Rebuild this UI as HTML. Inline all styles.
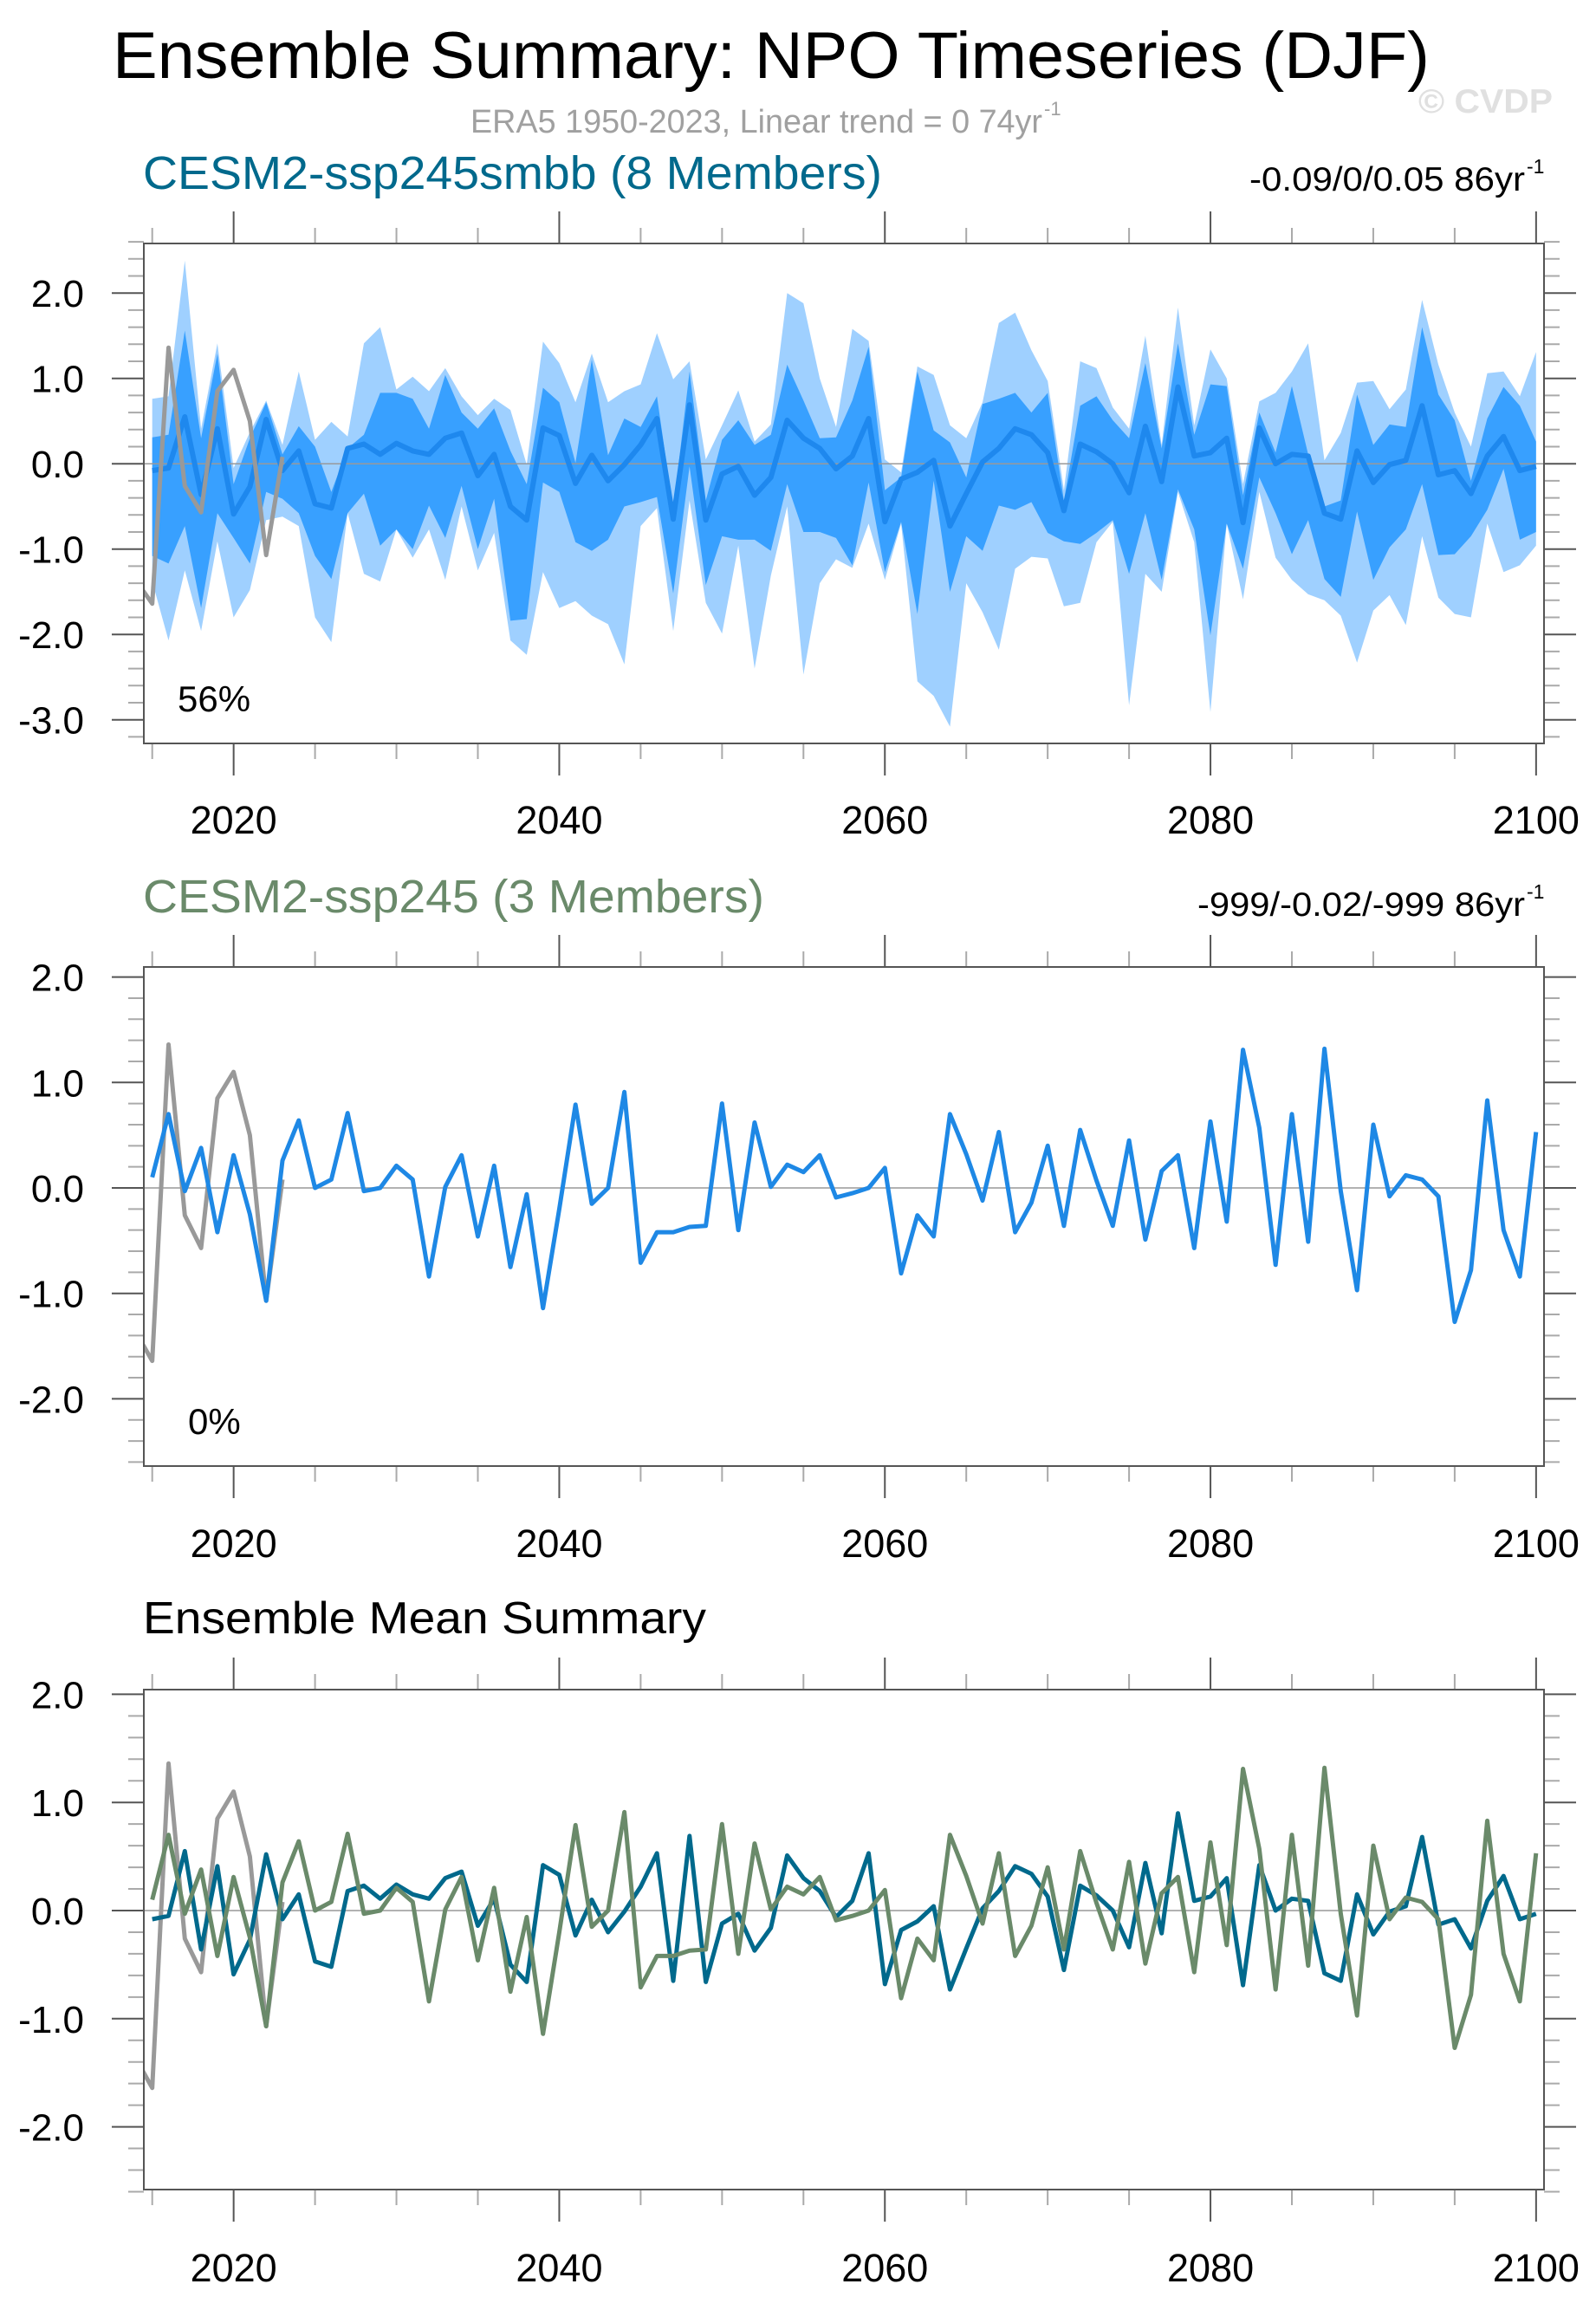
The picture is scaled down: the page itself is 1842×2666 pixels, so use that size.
<!DOCTYPE html>
<html><head><meta charset="utf-8"><title>Ensemble Summary: NPO Timeseries (DJF)</title>
<style>
html,body{margin:0;padding:0;background:#fff;}
svg{display:block;font-family:"Liberation Sans",Arial,sans-serif;}
</style></head>
<body>
<svg id="chart" xmlns="http://www.w3.org/2000/svg" width="1842" height="2666" viewBox="0 0 1842 2666">
<rect x="0" y="0" width="1842" height="2666" fill="#fff"/>
<text x="130" y="90" font-size="76" fill="#000" textLength="1520" lengthAdjust="spacingAndGlyphs">Ensemble Summary: NPO Timeseries (DJF)</text>
<text x="543" y="153" font-size="38" fill="#a0a0a0" textLength="660" lengthAdjust="spacingAndGlyphs">ERA5 1950-2023, Linear trend = 0 74yr</text>
<text x="1205" y="133" font-size="22" fill="#a0a0a0">-1</text>
<text x="1637" y="130" font-size="39" font-weight="bold" fill="#e0e0e0" textLength="155" lengthAdjust="spacingAndGlyphs">© CVDP</text>

<text x="165" y="218" font-size="54" fill="#00698c" textLength="853" lengthAdjust="spacingAndGlyphs">CESM2-ssp245smbb (8 Members)</text>
<text x="1442" y="220" font-size="39" fill="#000" textLength="318" lengthAdjust="spacingAndGlyphs">-0.09/0/0.05 86yr</text>
<text x="1762" y="200" font-size="23" fill="#000">-1</text>

<text x="165" y="1053" font-size="54" fill="#6a8a6a" textLength="717" lengthAdjust="spacingAndGlyphs">CESM2-ssp245 (3 Members)</text>
<text x="1382" y="1057" font-size="39" fill="#000" textLength="378" lengthAdjust="spacingAndGlyphs">-999/-0.02/-999 86yr</text>
<text x="1762" y="1037" font-size="23" fill="#000">-1</text>

<text x="165" y="1885" font-size="52" fill="#000" textLength="650" lengthAdjust="spacingAndGlyphs">Ensemble Mean Summary</text>
<g id="plots"></g>
</svg>
<script>
const years = [];
for (let y = 2015; y <= 2100; y++) years.push(y);
const era5Years = [2014,2015,2016,2017,2018,2019,2020,2021,2022,2023];
const era5Values = [-1.37,-1.64,1.36,-0.26,-0.57,0.85,1.10,0.50,-1.07,0.08];
const smbbMean = [-0.08,-0.05,0.55,-0.36,0.41,-0.59,-0.27,0.52,-0.08,0.15,-0.47,-0.52,0.18,0.23,0.11,0.24,0.15,0.11,0.30,0.36,-0.14,0.11,
-0.50,-0.66,0.42,0.33,-0.23,0.10,-0.20,-0.01,0.22,0.53,-0.65,0.69,-0.66,-0.12,-0.03,-0.37,-0.16,0.51,0.30,0.18,-0.06,
0.09,0.53,-0.68,-0.18,-0.10,0.04,-0.73,-0.35,0.02,0.18,0.41,0.34,0.13,-0.55,0.23,0.14,0.0,-0.34,0.44,-0.21,0.90,0.09,
0.13,0.30,-0.69,0.42,0.0,0.11,0.09,-0.58,-0.65,0.15,-0.22,-0.01,0.04,0.68,-0.13,-0.08,-0.35,0.09,0.32,-0.08,-0.03];
const smbbInnerTop = [0.31,0.34,1.56,0.30,1.29,-0.24,0.30,0.72,0.11,0.44,0.20,-0.33,0.18,0.34,0.83,0.83,0.76,0.41,1.04,0.60,0.41,0.65,
0.15,-0.24,0.89,0.72,0.01,1.22,0.10,0.53,0.43,0.79,-0.54,1.08,-0.43,0.28,0.51,0.22,0.34,1.16,0.74,0.30,0.31,
0.74,1.37,-0.31,-0.16,1.08,0.39,0.25,-0.16,0.70,0.76,0.83,0.60,0.83,-0.43,0.68,0.79,0.51,0.30,1.18,0.18,1.41,0.34,
0.93,0.91,-0.37,0.60,0.13,0.91,0.11,-0.50,-0.43,0.81,0.22,0.46,0.43,1.60,0.81,0.51,-0.20,0.53,0.90,0.68,0.26];
const smbbInnerBottom = [-1.08,-1.17,-0.73,-1.69,-0.58,-0.87,-1.17,-0.33,-0.41,-0.58,-1.08,-1.35,-0.58,-0.35,-0.96,-0.77,-1.0,-0.49,-0.87,-0.26,-1.0,-0.41,
-1.84,-1.82,-0.22,-0.33,-0.92,-1.02,-0.89,-0.50,-0.45,-0.39,-1.52,-0.03,-1.42,-0.85,-0.89,-0.89,-1.02,-0.24,-0.80,-0.80,-0.87,
-1.19,-0.22,-1.27,-0.68,-1.76,-0.20,-1.50,-0.85,-1.02,-0.49,-0.54,-0.45,-0.81,-0.91,-0.94,-0.81,-0.66,-1.29,-0.58,-1.36,-0.30,-0.77,
-2.01,-0.70,-1.23,-0.16,-0.58,-1.06,-0.66,-1.35,-1.56,-0.56,-1.36,-0.98,-0.77,-0.24,-1.07,-1.06,-0.85,-0.54,-0.06,-0.89,-0.80];
const smbbOuterTop = [0.76,0.79,2.38,0.41,1.41,-0.05,0.37,0.74,0.22,1.08,0.28,0.49,0.32,1.41,1.60,0.87,1.02,0.85,1.12,0.79,0.57,0.76,
0.63,-0.01,1.43,1.18,0.72,1.29,0.72,0.85,0.93,1.53,0.99,1.20,0.05,0.45,0.86,0.26,0.46,2.0,1.88,1.00,0.43,
1.58,1.44,0.05,-0.10,1.14,1.04,0.45,0.30,0.72,1.65,1.77,1.33,0.97,-0.31,1.20,1.12,0.66,0.41,1.50,0.22,1.83,0.45,
1.34,1.00,-0.24,0.73,0.83,1.08,1.41,0.04,0.36,0.95,0.97,0.64,0.87,1.92,1.16,0.60,0.20,1.06,1.08,0.79,1.31];
const smbbOuterBottom = [-1.38,-2.07,-1.25,-1.96,-0.91,-1.80,-1.48,-0.66,-0.62,-0.73,-1.80,-2.09,-0.58,-1.29,-1.38,-0.77,-1.1,-0.77,-1.36,-0.5,-1.25,-0.81,
-2.07,-2.24,-1.27,-1.69,-1.61,-1.78,-1.88,-2.35,-0.73,-0.52,-1.96,-0.43,-1.63,-1.99,-0.96,-2.40,-1.31,-0.50,-2.47,-1.40,-1.12,
-1.22,-0.70,-1.36,-0.70,-2.55,-2.72,-3.08,-1.40,-1.74,-2.18,-1.23,-1.09,-1.11,-1.67,-1.63,-0.92,-0.68,-2.83,-1.29,-1.50,-0.33,-0.92,
-2.91,-0.70,-1.59,-0.33,-1.10,-1.36,-1.53,-1.60,-1.78,-2.33,-1.72,-1.54,-1.89,-0.85,-1.57,-1.76,-1.80,-0.70,-1.27,-1.19,-0.96];
const ssp245Mean = [0.10,0.70,-0.03,0.38,-0.42,0.31,-0.25,-1.07,0.26,0.64,0.0,0.08,0.71,-0.03,0.0,0.21,0.08,-0.84,0.01,0.31,-0.46,0.21,
-0.75,-0.06,-1.14,-0.2,0.79,-0.15,0.0,0.91,-0.71,-0.42,-0.42,-0.37,-0.36,0.80,-0.40,0.62,0.01,0.22,0.15,0.31,-0.09,
-0.05,0.0,0.19,-0.81,-0.26,-0.46,0.70,0.32,-0.12,0.53,-0.42,-0.14,0.40,-0.36,0.55,0.07,-0.36,0.45,-0.49,0.16,0.31,-0.57,
0.63,-0.32,1.31,0.57,-0.73,0.70,-0.51,1.32,-0.03,-0.97,0.60,-0.08,0.12,0.08,-0.08,-1.27,-0.78,0.83,-0.40,-0.84,0.53];
const yTickLabels1 = ["2.0","1.0","0.0","-1.0","-2.0","-3.0"];
const yTickLabels23 = ["2.0","1.0","0.0","-1.0","-2.0"];
const xTickLabels = ["2020","2040","2060","2080","2100"];
const pctPanel1 = "56%";
const pctPanel2 = "0%";

const NS = "http://www.w3.org/2000/svg";
const root = document.getElementById('plots');
function mk(tag, attrs, parent) {
  const e = document.createElementNS(NS, tag);
  for (const k in attrs) e.setAttribute(k, attrs[k]);
  (parent || root).appendChild(e);
  return e;
}
const X0 = 166, X1 = 1782;
function xScale(yr) { return 175.7 + (yr - 2015) * 18.79; }

function makePanel(id, top, bottom, zeroY, unit, vmin, vmax, yLabels, labelBaseline) {
  const yScale = v => zeroY - v * unit;
  const g = mk('g', {});
  
  
  const clipId = id + '-clip';
  const cp = mk('clipPath', {id: clipId}, g);
  mk('rect', {x: X0, y: top, width: X1 - X0, height: bottom - top}, cp);
  const plot = mk('g', {'clip-path': 'url(#' + clipId + ')'}, g);
  
  
  const ticks = mk('g', {stroke: '#666', 'stroke-width': 2}, g);
  
  
  for (let yr = 2015; yr <= 2100; yr += 5) {
    const major = (yr % 20 === 0);
    const L = major ? 37 : 18;
    const x = xScale(yr);
    mk('line', {x1: x, x2: x, y1: top, y2: top - L, stroke: major ? '#555' : '#aaa'}, ticks);
    mk('line', {x1: x, x2: x, y1: bottom, y2: bottom + L, stroke: major ? '#555' : '#aaa'}, ticks);
  }
  for (let k = Math.ceil(vmin * 5); k <= Math.floor(vmax * 5); k++) {
    const v = k / 5;
    const major = (k % 5 === 0);
    const L = major ? 37 : 18;
    const y = yScale(v);
    mk('line', {x1: X0, x2: X0 - L, y1: y, y2: y, stroke: major ? '#555' : '#aaa'}, ticks);
    mk('line', {x1: X1, x2: X1 + L, y1: y, y2: y, stroke: major ? '#555' : '#aaa'}, ticks);
  }
  yLabels.forEach(lbl => {
    const t = mk('text', {x: 97, y: yScale(parseFloat(lbl)) + 16, 'font-size': 44, 'text-anchor': 'end', fill: '#000'}, g);
    
    
    t.textContent = lbl;
  });
  xTickLabels.forEach(lbl => {
    const t = mk('text', {x: xScale(parseFloat(lbl)), y: labelBaseline, 'font-size': 45, 'text-anchor': 'middle', fill: '#000'}, g);
    
    
    t.textContent = lbl;
  });
  return {g, plot, yScale, top, bottom};
}
function linePath(xs, vs, yScale) {
  return xs.map((yr, i) => (i ? 'L' : 'M') + xScale(yr).toFixed(1) + ' ' + yScale(vs[i]).toFixed(1)).join(' ');
}
function bandPath(topVals, botVals, yScale) {
  let d = years.map((yr, i) => (i ? 'L' : 'M') + xScale(yr).toFixed(1) + ' ' + yScale(topVals[i]).toFixed(1)).join(' ');
  for (let i = years.length - 1; i >= 0; i--) d += ' L' + xScale(years[i]).toFixed(1) + ' ' + yScale(botVals[i]).toFixed(1);
  return d + ' Z';
}
function zeroLine(p, id) {
  const z = mk('line', {x1: X0, x2: X1, y1: p.yScale(0), y2: p.yScale(0), stroke: '#999', 'stroke-width': 1.5}, p.plot);
  
  
}
function frame(p, id) {
  const r = mk('rect', {x: X0, y: p.top, width: X1 - X0, height: p.bottom - p.top, fill: 'none', stroke: '#555', 'stroke-width': 2}, p.g);
  
  
}

// Panel 1
const p1 = makePanel('panel1', 281, 858, 535.2, 98.5, -3.3, 2.6, yTickLabels1, 962);
let e;
e = mk('path', {d: bandPath(smbbOuterTop, smbbOuterBottom, p1.yScale), fill: '#9fd0ff', stroke: 'none'}, p1.plot);


e = mk('path', {d: bandPath(smbbInnerTop, smbbInnerBottom, p1.yScale), fill: '#38a0ff', stroke: 'none'}, p1.plot);


zeroLine(p1, 'panel1');
e = mk('path', {d: linePath(years, smbbMean, p1.yScale), fill: 'none', stroke: '#1e88ee', 'stroke-width': 6, 'stroke-linejoin': 'round'}, p1.plot);


e = mk('path', {d: linePath(era5Years, era5Values, p1.yScale), fill: 'none', stroke: '#999', 'stroke-width': 5, 'stroke-linejoin': 'round'}, p1.plot);


frame(p1, 'panel1');
e = mk('text', {x: 205, y: 821, 'font-size': 42, fill: '#000'}, p1.g);


e.textContent = pctPanel1;

// Panel 2
const p2 = makePanel('panel2', 1116, 1692, 1371, 121.7, -2.6, 2.1, yTickLabels23, 1797);
zeroLine(p2, 'panel2');
e = mk('path', {d: linePath(era5Years, era5Values, p2.yScale), fill: 'none', stroke: '#999', 'stroke-width': 5, 'stroke-linejoin': 'round'}, p2.plot);


e = mk('path', {d: linePath(years, ssp245Mean, p2.yScale), fill: 'none', stroke: '#1e88e5', 'stroke-width': 5, 'stroke-linejoin': 'round'}, p2.plot);


frame(p2, 'panel2');
e = mk('text', {x: 217, y: 1655, 'font-size': 42, fill: '#000'}, p2.g);


e.textContent = pctPanel2;

// Panel 3
const p3 = makePanel('panel3', 1950, 2527, 2205, 124.8, -2.6, 2.05, yTickLabels23, 2633);
zeroLine(p3, 'panel3');
e = mk('path', {d: linePath(era5Years, era5Values, p3.yScale), fill: 'none', stroke: '#999', 'stroke-width': 5, 'stroke-linejoin': 'round'}, p3.plot);


e = mk('path', {d: linePath(years, smbbMean, p3.yScale), fill: 'none', stroke: '#00698c', 'stroke-width': 5, 'stroke-linejoin': 'round'}, p3.plot);


e = mk('path', {d: linePath(years, ssp245Mean, p3.yScale), fill: 'none', stroke: '#6a8a6a', 'stroke-width': 5, 'stroke-linejoin': 'round'}, p3.plot);


frame(p3, 'panel3');
</script>
</body></html>
